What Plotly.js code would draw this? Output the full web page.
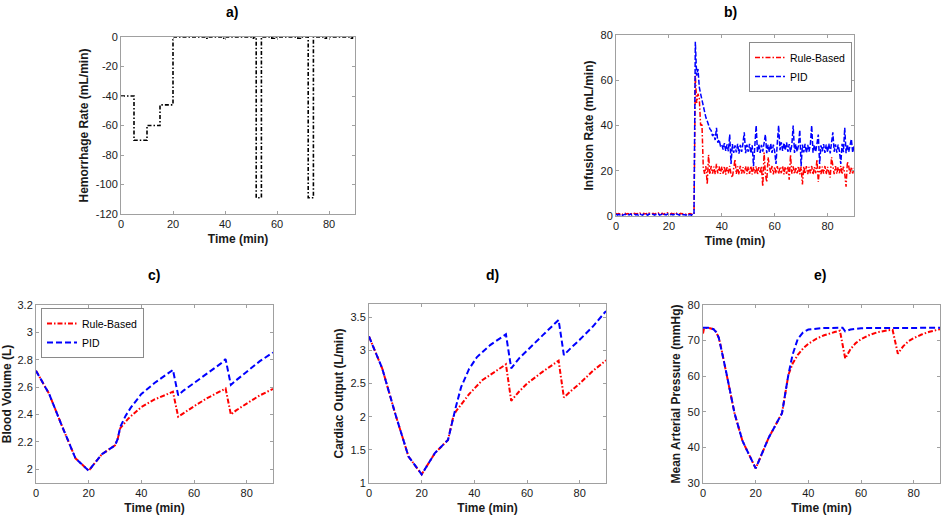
<!DOCTYPE html>
<html>
<head>
<meta charset="utf-8">
<script src="https://cdn.plot.ly/plotly-3.0.1.min.js"></script>
<style>html,body{margin:0;padding:0;background:#fff;}#chart{width:945px;height:520px;}</style>
</head>
<body>
<div id="chart"></div>
<script>
// ---------- Panel a: hemorrhage rate ----------
const hemT = [0, 5, 10, 15, 20, 33, 34, 39, 40, 50, 51, 52, 54, 58, 59, 68, 69, 72, 74, 78, 79, 88, 89, 90];
const hemRate = [-40, -70, -60, -46, 0, -0.8, 0, -0.8, 0, -0.8, 0, -109, 0, -0.8, 0, -0.8, 0, -109, 0, -0.8, 0, -0.8, 0, 0];

// ---------- Panel b: infusion rate (sampled every 0.5 min, 0..90) ----------
const infStart = 0, infStep = 0.5;
const infRule = [
 1.2,0.8,1.1,0.9,1.3,0.7,1.0,1.2,0.8,1.1, 0.9,1.4,0.7,1.0,1.2,0.9,1.1,0.8,1.3,1.0,
 0.8,1.2,0.9,1.1,0.7,1.3,1.0,0.9,1.2,0.8, 1.1,0.9,1.3,0.8,1.0,1.2,0.7,1.1,0.9,1.4,
 1.0,0.8,1.2,0.9,1.1,0.7,1.3,1.0,0.8,1.2, 0.9,1.1,1.0,0.8,1.3,0.9,1.1,0.7,1.2,1.0,
 62,50,54,52,40,41,21.5,18.6,22.0,14,
 27,18.4,22.1,18.7,21.8,18.5,23,18.8,21.9,18.6,
 21.8,18.7,22.0,18.3,21.6,18.8,22.1,18.5,17,21.7,
 25,18.6,21.9,18.4,22.2,18.7,21.6,18.9,22.0,18.5,
 21.8,18.6,22.1,18.4,21.7,18.8,22.0,18.3,21.6,18.9,
 22.0,13,28,18.5,15,26,21.8,18.7,22.1,18.4,
 21.7,18.8,22.0,18.5,21.6,18.9,22.2,18.4,21.8,18.6,
 22.0,16,27,18.7,21.9,18.5,21.6,18.8,22.1,18.4,
 21.8,14,21.9,18.6,22.0,18.5,21.7,18.8,22.1,18.3,
 21.6,18.9,25,15,22.0,18.5,21.8,18.7,22.1,18.4,
 21.7,18.8,17,26,21.9,18.5,22.0,18.6,21.6,18.9,
 22.1,18.4,21.8,18.7,13,24,22.0,18.5,21.7,18.8,
 21.2
];
const infPID = [
 0.8,0.4,0.7,0.5,0.9,0.3,0.6,0.8,0.4,0.7, 0.5,0.9,0.4,0.6,0.8,0.5,0.7,0.3,0.9,0.6,
 0.4,0.8,0.5,0.7,0.3,0.9,0.6,0.5,0.8,0.4, 0.7,0.5,0.9,0.4,0.6,0.8,0.3,0.7,0.5,0.9,
 0.6,0.4,0.8,0.5,0.7,0.3,0.9,0.6,0.4,0.8, 0.5,0.7,0.6,0.4,0.9,0.5,0.7,0.3,0.8,0.6,
 77,62,65,57,54,51,48,46,43.5,42,
 40,38.5,37.8,35.4,36.0,33.6,39,32.4,33.8,31.0,
 31.5,29.4,32.2,28.8,31.6,28.6,36,23,31.8,27.9,
 31.2,28.1,31.9,27.6,31.4,28.3,32.0,37,27.8,31.5,
 28.4,31.9,27.7,31.3,22,31.6,40,28.2,31.8,27.9,
 31.4,28.5,32.1,36,27.8,31.6,28.3,32.0,27.9,31.5,
 28.6,23,32.4,40,29.1,32.6,28.8,32.3,29.0,32.5,
 28.4,31.8,28.2,31.5,40,27.9,31.7,28.4,31.2,38,
 22,31.6,28.1,31.9,27.8,31.4,28.5,31.8,40,28.0,
 31.5,28.3,31.9,36,23,31.2,28.6,31.8,27.9,31.6,
 28.2,32.0,27.7,31.4,37,28.4,31.7,28.0,31.5,28.6,
 23,31.9,28.2,39,27.8,31.6,28.3,31.2,34,28.0,
 31.0
];
const infT = infRule.map((_, i) => infStart + i * infStep);

// ---------- Panel c: blood volume (L) ----------
const bvRuleT = [0,5,10,15,20,25,30,31,32,35,40,45,50,52,54,56,60,65,70,72,74,76,80,85,90];
const bvRule  = [2.72,2.55,2.31,2.08,1.99,2.11,2.175,2.22,2.30,2.37,2.455,2.51,2.55,2.567,2.384,2.41,2.46,2.52,2.57,2.59,2.40,2.43,2.48,2.54,2.587];
const bvPIDT  = [0,5,10,15,20,25,30,31,32,34,36,40,45,50,52,54,56,60,65,70,72,74,76,80,85,90];
const bvPID   = [2.72,2.55,2.31,2.08,1.99,2.11,2.175,2.22,2.31,2.39,2.45,2.55,2.63,2.695,2.726,2.54,2.575,2.63,2.70,2.77,2.805,2.616,2.65,2.71,2.79,2.853];

// ---------- Panel d: cardiac output (L/min) ----------
const coRuleT = [0,5,10,15,20,25,30,31,32,33,35,38,43,48,52,54,57,60,66,72,74,77,80,85,90];
const coRule  = [3.21,2.73,2.04,1.40,1.13,1.45,1.65,1.82,2.0,2.08,2.18,2.34,2.55,2.69,2.79,2.24,2.38,2.50,2.68,2.845,2.29,2.40,2.50,2.69,2.85];
const coPIDT  = [0,5,10,15,20,25,30,31,32,33,35,38,41,46,52,54,57,60,66,72,74,77,80,85,90];
const coPID   = [3.21,2.73,2.04,1.40,1.13,1.45,1.65,1.82,2.0,2.15,2.45,2.72,2.90,3.08,3.243,2.73,2.88,3.0,3.23,3.46,2.93,3.05,3.16,3.36,3.594];

// ---------- Panel e: mean arterial pressure (mmHg) ----------
const mapRuleT = [0,0.4,2,4,5,6,7,9,12,15,20,25,30,31,32.4,34,36,38,40,43,46,50,52,54,56,58,60,63,66,70,72,74,76,78,80,83,86,90];
const mapRule  = [72.0,73.5,73.6,73.2,72.4,70.8,67.6,60.5,49.5,41.8,34.1,42.8,49.6,54,60.3,63.5,66,67.8,69.1,70.5,71.5,72.4,72.8,65.0,67.6,69.3,70.4,71.5,72.3,72.9,73.0,66.3,68.4,69.8,70.7,71.7,72.5,73.2];
const mapPIDT  = [0,2,4,5,6,7,9,12,15,20,25,30,31,32.4,34,36,38,40,45,53,54,56,60,90];
const mapPID   = [73.6,73.6,73.2,72.4,70.8,67.6,60.5,49.5,41.8,34.1,42.8,49.6,54,60.3,66,70.5,72.3,73.1,73.5,73.6,72.6,73.1,73.5,73.6];

const panelLabels = ["a)", "b)", "c)", "d)", "e)"];
const seriesNames = ["Rule-Based", "PID"];

const FONT = "Liberation Sans, Arial, sans-serif";
const RED = "#ff0000", BLUE = "#0000ff";
const redDash = "5px,2px,1.5px,2px";
const blueDash = "6px,3px";

const traces = [
  {x: hemT, y: hemRate, xaxis: "x", yaxis: "y", mode: "lines", line: {shape: "hv", color: "#000", width: 1.6, dash: "4px,2px,1.5px,2px"}, showlegend: false},
  {x: infT, y: infRule, xaxis: "x2", yaxis: "y2", mode: "lines", name: seriesNames[0], line: {color: RED, width: 1.5, dash: "5px,2px,1.5px,2px"}, legend: "legend"},
  {x: infT, y: infPID, xaxis: "x2", yaxis: "y2", mode: "lines", name: seriesNames[1], line: {color: BLUE, width: 1.5, dash: "5px,2px"}, legend: "legend"},
  {x: bvRuleT, y: bvRule, xaxis: "x3", yaxis: "y3", mode: "lines", name: seriesNames[0], line: {color: RED, width: 2, dash: redDash}, legend: "legend2"},
  {x: bvPIDT, y: bvPID, xaxis: "x3", yaxis: "y3", mode: "lines", name: seriesNames[1], line: {color: BLUE, width: 2, dash: blueDash}, legend: "legend2"},
  {x: coRuleT, y: coRule, xaxis: "x4", yaxis: "y4", mode: "lines", line: {color: RED, width: 2, dash: redDash}, showlegend: false},
  {x: coPIDT, y: coPID, xaxis: "x4", yaxis: "y4", mode: "lines", line: {color: BLUE, width: 2, dash: blueDash}, showlegend: false},
  {x: mapRuleT, y: mapRule, xaxis: "x5", yaxis: "y5", mode: "lines", line: {color: RED, width: 2, dash: redDash}, showlegend: false},
  {x: mapPIDT, y: mapPID, xaxis: "x5", yaxis: "y5", mode: "lines", line: {color: BLUE, width: 2, dash: blueDash}, showlegend: false}
];

const W = 945, H = 520;
function xd(l, r) { return [l / W, r / W]; }
function yd(t, b) { return [1 - b / H, 1 - t / H]; }

function xax(dom, anchor) {
  return {domain: dom, anchor: anchor, range: [0, 90], tickvals: [0, 20, 40, 60, 80],
    showline: true, mirror: "ticks", linecolor: "#a0a0a0", linewidth: 1, ticks: "inside", ticklen: 3, tickcolor: "#a0a0a0",
    showgrid: false, zeroline: false, tickfont: {family: FONT, size: 11, color: "#1a1a1a"},
    title: {text: "Time (min)", font: {family: FONT, size: 12, color: "#1a1a1a", weight: "bold"}, standoff: 5}};
}
function yax(dom, anchor, range, vals, txt, title) {
  return {domain: dom, anchor: anchor, range: range, tickvals: vals, ticktext: txt,
    showline: true, mirror: "ticks", linecolor: "#a0a0a0", linewidth: 1, ticks: "inside", ticklen: 3, tickcolor: "#a0a0a0",
    showgrid: false, zeroline: false, tickfont: {family: FONT, size: 11, color: "#1a1a1a"},
    title: {text: title, font: {family: FONT, size: 12, color: "#1a1a1a", weight: "bold"}, standoff: 4}};
}

const aTicks = [-120, -100, -80, -60, -40, -20, 0];
const bTicks = [0, 20, 40, 60, 80];
const cTicks = [2, 2.2, 2.4, 2.6, 2.8, 3, 3.2];
const dTicks = [1, 1.5, 2, 2.5, 3, 3.5];
const eTicks = [30, 40, 50, 60, 70, 80];

const layout = {
  width: W, height: H, autosize: false,
  margin: {l: 0, r: 0, t: 0, b: 0},
  paper_bgcolor: "#fff", plot_bgcolor: "#fff",
  font: {family: FONT},
  xaxis: xax(xd(121, 355), "y"),
  yaxis: yax(yd(37, 214), "x", [-120, 0], aTicks, aTicks.map(String), "Hemorrhage Rate (mL/min)"),
  xaxis2: xax(xd(616, 854), "y2"),
  yaxis2: yax(yd(35, 216), "x2", [0, 80], bTicks, bTicks.map(String), "Infusion Rate (mL/min)"),
  xaxis3: xax(xd(36, 273), "y3"),
  yaxis3: yax(yd(305, 483), "x3", [1.9, 3.2], cTicks, cTicks.map(String), "Blood Volume (L)"),
  xaxis4: xax(xd(369, 606), "y4"),
  yaxis4: yax(yd(304, 483), "x4", [1, 3.7], dTicks, dTicks.map(String), "Cardiac Output (L/min)"),
  xaxis5: xax(xd(703, 940), "y5"),
  yaxis5: yax(yd(305, 483), "x5", [30, 80], eTicks, eTicks.map(String), "Mean Arterial Pressure (mmHg)"),
  legend: {x: 852 / W, xanchor: "right", y: 1 - 42 / H, yanchor: "top", bgcolor: "#fff", bordercolor: "#8a8a8a", borderwidth: 1,
    font: {family: FONT, size: 10.5, color: "#000"}, itemwidth: 30, tracegroupgap: 0},
  legend2: {x: 41 / W, xanchor: "left", y: 1 - 308 / H, yanchor: "top", bgcolor: "#fff", bordercolor: "#8a8a8a", borderwidth: 1,
    font: {family: FONT, size: 10.5, color: "#000"}, itemwidth: 30, tracegroupgap: 0},
  annotations: [
    {text: panelLabels[0], x: 232 / W, y: 1 - 12 / H},
    {text: panelLabels[1], x: 730 / W, y: 1 - 12 / H},
    {text: panelLabels[2], x: 154 / W, y: 1 - 275 / H},
    {text: panelLabels[3], x: 492 / W, y: 1 - 275 / H},
    {text: panelLabels[4], x: 820 / W, y: 1 - 275 / H}
  ].map(a => Object.assign(a, {xref: "paper", yref: "paper", showarrow: false, xanchor: "center", yanchor: "middle",
    font: {family: FONT, size: 14, color: "#000", weight: "bold"}}))
};

Plotly.newPlot("chart", traces, layout, {staticPlot: true, displayModeBar: false});
</script>
</body>
</html>
